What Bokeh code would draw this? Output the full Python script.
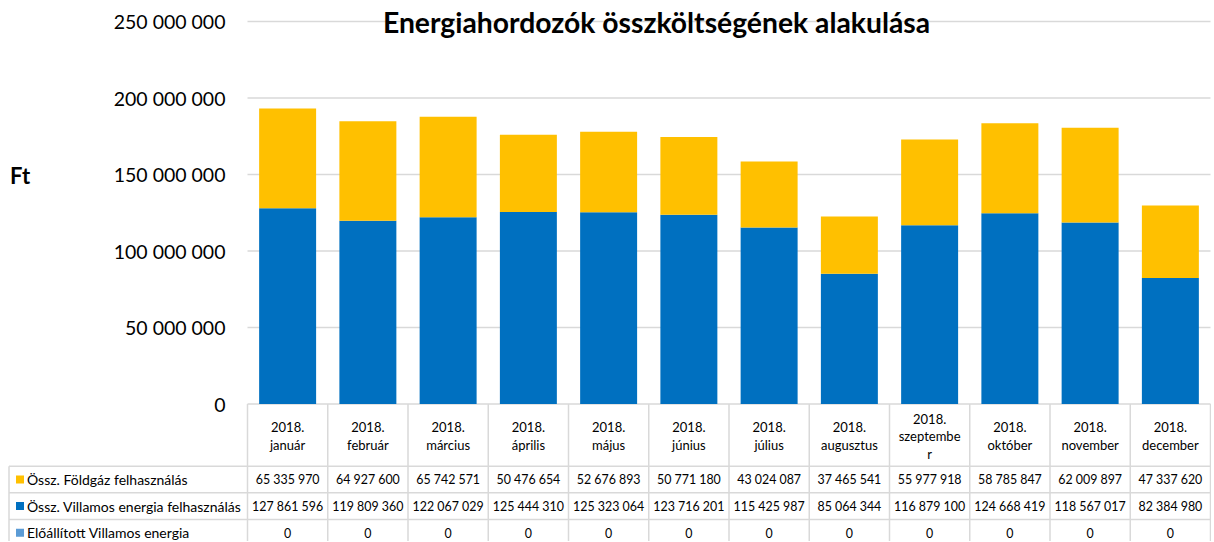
from bokeh.plotting import figure
from bokeh.models import Range1d, FixedTicker, Label
from bokeh.core.properties import value
from bokeh.embed import file_html
from bokeh.resources import INLINE

# ---------------- data ----------------
year = "2018."
months = ["január", "február", "március", "április", "május", "június",
          "július", "augusztus", "szeptember", "október", "november", "december"]
foldgaz = [65335970, 64927600, 65742571, 50476654, 52676893, 50771180,
           43024087, 37465541, 55977918, 58785847, 62009897, 47337620]
villamos = [127861596, 119809360, 122067029, 125444310, 125323064, 123716201,
            115425987, 85064344, 116879100, 124668419, 118567017, 82384980]
eloallitott = [0, 0, 0, 0, 0, 0, 0, 0, 0, 0, 0, 0]
series_names = ["Össz. Földgáz felhasználás",
                "Össz. Villamos energia felhasználás",
                "Előállított Villamos energia"]
y_ticks = [0, 50000000, 100000000, 150000000, 200000000, 250000000]
y_tick_labels = ["0", "50 000 000", "100 000 000", "150 000 000",
                 "200 000 000", "250 000 000"]
title_text = "Energiahordozók összköltségének alakulása"
y_title = "Ft"

# ---------------- styling / layout ----------------
C_GAS = "#FFC000"
C_ELEC = "#0070C0"
C_PROD = "#5B9BD5"
C_GRID = "#D9D9D9"
FONT = "Lato"

W, H = 1211, 541
OX, OY = 0.5, 1.0                  # where the canvas lands on the picture
ZX = 247.5                         # picture x of the plot area's left edge
PXX = 12 / (1210.5 - ZX)           # data units per pixel (x)
PXY = 50e6 / 76.5                  # Ft per pixel (y)
ZY = 404.5                         # picture y of the zero line
x_start = -(ZX - OX) * PXX
x_border = -(ZX - 9) * PXX
x_end = x_start + W * PXX
y_top = (ZY - OY) * PXY
y_bot = y_top - H * PXY

def ypx(page_y):
    return -(page_y - ZY) * PXY

p = figure(width=W, height=H, x_range=Range1d(x_start, x_end),
           y_range=Range1d(y_bot, y_top), output_backend="svg",
           toolbar_location=None, min_border=0, x_axis_location=None)
p.outline_line_color = None
p.xgrid.visible = False
p.ygrid.visible = False
p.background_fill_color = "white"
p.border_fill_color = "white"

ax = p.yaxis[0]
ax.ticker = FixedTicker(ticks=y_ticks)
ax.major_label_overrides = {t: l for t, l in zip(y_ticks, y_tick_labels)}
ax.fixed_location = 0
ax.axis_line_color = None
ax.major_tick_line_color = None
ax.minor_tick_line_color = None
ax.major_label_text_font = FONT
ax.major_label_text_font_size = "19.5px"
ax.major_label_text_color = "#000000"
ax.major_label_standoff = 16

n = len(months)
centers = [i + 0.5 for i in range(n)]

# grid lines (plot area only)
p.segment(x0=[0] * len(y_ticks), x1=[n] * len(y_ticks), y0=y_ticks, y1=y_ticks,
          line_color=C_GRID, line_width=1.5)

# stacked bars
bw = 0.71
p.vbar(x=centers, width=bw, bottom=[0] * n, top=villamos,
       fill_color=C_ELEC, line_color=None)
top_gas = [a + b for a, b in zip(villamos, foldgaz)]
p.vbar(x=centers, width=bw, bottom=villamos, top=top_gas,
       fill_color=C_GAS, line_color=None)
top_prod = [a + b for a, b in zip(top_gas, eloallitott)]
p.vbar(x=centers, width=bw, bottom=top_gas, top=top_prod,
       fill_color=C_PROD, line_color=None)

# ---------------- data table ----------------
y_head_bot = ypx(466.7)
row_lines = [ypx(493.3), ypx(520.0)]
row_centers = [ypx(480.0), ypx(506.6), ypx(533.2)]

hy = [y_head_bot] + row_lines
p.segment(x0=[x_border] * len(hy), x1=[n] * len(hy), y0=hy, y1=hy,
          line_color=C_GRID, line_width=1.5)
vx = list(range(n + 1))
p.segment(x0=vx, x1=vx, y0=[0] * len(vx), y1=[y_bot] * len(vx),
          line_color=C_GRID, line_width=1.5)
p.segment(x0=[x_border], x1=[x_border], y0=[y_head_bot], y1=[y_bot],
          line_color=C_GRID, line_width=1.5)

# header texts (wrapped like the original cell)
def wrap(s, k=9):
    return [s[i:i + k] for i in range(0, len(s), k)]

hx, hy_, ht = [], [], []
LINE = 17.5
HEAD_C = 436.5
for c, m in zip(centers, months):
    lines = [year] + wrap(m)
    k = len(lines)
    for j, t in enumerate(lines):
        hx.append(c)
        hy_.append(ypx(HEAD_C + (j - (k - 1) / 2) * LINE))
        ht.append(t)
p.text(x=hx, y=hy_, text=ht, text_align="center", text_baseline="middle",
       text_font=value(FONT), text_font_size="13px", text_color="#000000")

def fmt(v):
    return f"{v:,}".replace(",", " ")

series_vals = [foldgaz, villamos, eloallitott]
series_cols = [C_GAS, C_ELEC, C_PROD]
for vals, yc in zip(series_vals, row_centers):
    p.text(x=centers, y=[yc] * n, text=[fmt(v) for v in vals],
           text_align="center", text_baseline="middle", text_font=value(FONT),
           text_font_size="12.4px", text_color="#000000")

# row labels with legend keys
p.scatter(x=[x_border + 11 * PXX] * 3, y=row_centers, marker="square", size=8,
          fill_color=series_cols, line_color=None)
p.text(x=[x_border + 18 * PXX] * 3, y=row_centers, text=series_names,
       text_align="left", text_baseline="middle", text_font=value(FONT),
       text_font_size="14px", text_color="#000000")

# title and axis title
p.add_layout(Label(x=(656.5 - ZX) * PXX, y=ypx(22), text=title_text,
                   text_align="center", text_baseline="middle",
                   text_font=FONT, text_font_style="bold",
                   text_font_size="28.3px", text_color="#000000"))
p.add_layout(Label(x=x_border + 1 * PXX, y=ypx(176), text=y_title,
                   text_align="left", text_baseline="middle",
                   text_font=FONT, text_font_style="bold",
                   text_font_size="22px", text_color="#000000"))

open("out.html", "w").write(file_html(p, INLINE))
